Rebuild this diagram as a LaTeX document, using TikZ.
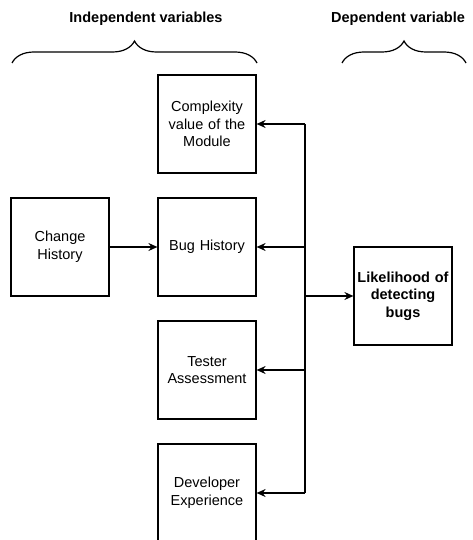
\documentclass[tikz,border=0pt]{standalone}
\usepackage{fontspec}
\setmainfont{Liberation Sans}
\usetikzlibrary{positioning,calc,arrows.meta,decorations.pathreplacing}

\tikzset{
    varbox/.style={draw, line width=1.2pt, minimum width=98pt, minimum height=98pt,
        text width=92pt, align=center, inner sep=0pt, font=\fontsize{14.5}{17.7}\selectfont},
    arr/.style={-{Stealth[length=9pt,width=8pt,inset=3pt]}, line width=1.2pt},
    grouplabel/.style={font=\fontsize{14.5}{17.7}\selectfont\bfseries},
    groupbrace/.style={decorate, decoration={brace, amplitude=22pt, aspect=0.5}, line width=1.2pt}
}

\begin{document}
\begin{tikzpicture}[x=1pt, y=-1pt]
    \useasboundingbox (0,0) rectangle (472,540);

    % Headings and braces
    \node[grouplabel] (indep) at (146,19) {Independent variables};
    \node[grouplabel] (dep) at (398,19) {Dependent variable};
    \draw[groupbrace] (12,63) -- (257,63);
    \draw[groupbrace] (342,63) -- (466,63);

    % Independent variables
    \node[varbox] (cmplx) at (207,124) {Complexity\\value of the\\Module};
    \node[varbox] (bug) at (207,247) {Bug History};
    \node[varbox] (tester) at (207,370) {Tester\\Assessment};
    \node[varbox] (dev) at (207,493) {Developer\\Experience};
    \node[varbox] (change) at (60,247) {Change\\History};

    % Dependent variable
    \node[varbox, font=\fontsize{14.5}{17.7}\selectfont\bfseries] (likely) at (403,296) {Likelihood of\\detecting\\bugs};

    % Connections
    \coordinate (bustop) at (305,124);
    \coordinate (busbot) at (305,493);
    \draw[line width=1.2pt] (bustop) -- (busbot);
    \draw[arr] (bustop) -- (cmplx.east);
    \draw[arr] (bug.east -| bustop) -- (bug.east);
    \draw[arr] (tester.east -| bustop) -- (tester.east);
    \draw[arr] (busbot) -- (dev.east);
    \draw[arr] (likely.west -| bustop) -- (likely.west);
    \draw[arr] (change) -- (bug);
\end{tikzpicture}
\end{document}
